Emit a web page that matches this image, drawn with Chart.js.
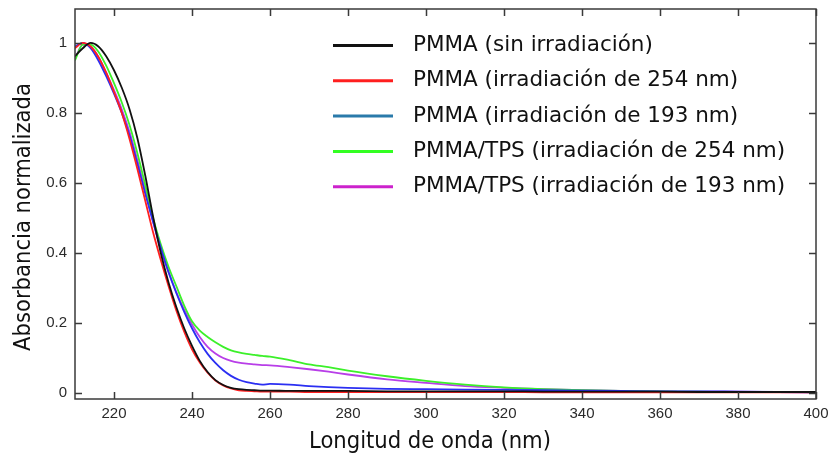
<!DOCTYPE html>
<html>
<head>
<meta charset="utf-8">
<script src="https://cdn.jsdelivr.net/npm/chart.js@4.4.1/dist/chart.umd.min.js"></script>
<style>
html,body{margin:0;padding:0;background:#fff;}
#wrap{width:832px;height:459px;position:relative;}
</style>
</head>
<body>
<div id="wrap"><canvas id="c"></canvas></div>
<script>
// ---- data ----
const wavelengths = [210,212,214,216,218,220,222,224,226,228,230,232,234,236,238,240,242,244,246,248,250,252,254,256,258,260,265,270,275,280,290,300,310,320,330,340,350,360,370,380,390,400];

const pmmaSin = [0.962,0.985,1.0,0.99,0.962,0.922,0.872,0.81,0.728,0.622,0.505,0.4,0.315,0.245,0.185,0.135,0.092,0.06,0.037,0.023,0.015,0.011,0.009,0.008,0.007,0.007,0.006,0.006,0.006,0.006,0.005,0.005,0.005,0.005,0.004,0.004,0.004,0.004,0.003,0.003,0.003,0.003];

const pmma254 = [0.985,1.0,0.99,0.96,0.915,0.86,0.80,0.725,0.64,0.55,0.46,0.38,0.305,0.235,0.175,0.125,0.087,0.058,0.036,0.022,0.013,0.008,0.006,0.005,0.004,0.004,0.004,0.003,0.003,0.003,0.003,0.003,0.003,0.003,0.002,0.002,0.002,0.002,0.002,0.002,0.002,0.002];

const pmma193 = [0.99,1.0,0.985,0.95,0.905,0.855,0.8,0.735,0.655,0.57,0.49,0.415,0.345,0.285,0.232,0.185,0.145,0.112,0.086,0.065,0.049,0.038,0.031,0.027,0.024,0.026,0.024,0.02,0.017,0.015,0.012,0.011,0.01,0.009,0.008,0.007,0.006,0.005,0.005,0.004,0.003,0.002];

const tps254 = [0.95,0.995,0.995,0.975,0.935,0.885,0.83,0.765,0.685,0.595,0.5,0.425,0.36,0.305,0.25,0.205,0.178,0.16,0.145,0.132,0.122,0.116,0.112,0.109,0.106,0.104,0.094,0.082,0.074,0.064,0.048,0.035,0.024,0.016,0.011,0.008,0.006,0.005,0.004,0.003,0.003,0.002];

const tps193 = [0.955,0.995,0.99,0.96,0.915,0.865,0.81,0.745,0.665,0.58,0.49,0.41,0.345,0.288,0.238,0.196,0.16,0.132,0.113,0.1,0.092,0.087,0.084,0.082,0.08,0.079,0.074,0.068,0.061,0.053,0.039,0.029,0.02,0.015,0.011,0.008,0.006,0.005,0.004,0.004,0.003,0.002];

const seriesLabels = ['PMMA (sin irradiación)','PMMA (irradiación de 254 nm)','PMMA (irradiación de 193 nm)','PMMA/TPS (irradiación de 254 nm)','PMMA/TPS (irradiación de 193 nm)'];
const seriesValues = [pmmaSin, pmma254, pmma193, tps254, tps193];
const lineColors = ['#111111','#ff1f1f','#2b2ff2','#3cf02a','#b83ee8'];
const legendColors = ['#111111','#ff1f1f','#2a7aaa','#33ff22','#cc22cc'];

const xTicks = [220,240,260,280,300,320,340,360,380,400];
const yTicks = [0,0.2,0.4,0.6,0.8,1];
const yTickLabels = ['0','0.2','0.4','0.6','0.8','1'];
const xTitle = 'Longitud de onda (nm)';
const yTitle = 'Absorbancia normalizada';

// ---- chart ----
const datasets = seriesValues.map((vals, k) => ({
  label: seriesLabels[k],
  data: wavelengths.map((w, i) => ({x: w, y: vals[i]})),
  borderColor: lineColors[k],
  backgroundColor: lineColors[k],
  borderWidth: 1.8,
  pointRadius: 0,
  fill: false,
  cubicInterpolationMode: 'monotone'
}));

const framePlugin = {
  id: 'frame',
  afterDatasetsDraw(chart) {
    const {ctx, chartArea: a, scales: {x, y}} = chart;
    ctx.save();
    ctx.strokeStyle = '#3a3a3a';
    ctx.lineWidth = 1.5;
    ctx.strokeRect(a.left, a.top, a.right - a.left, a.bottom - a.top);
    ctx.beginPath();
    const tl = 7;
    x.ticks.forEach(t => {
      const px = Math.round(x.getPixelForValue(t.value)) + 0.5;
      ctx.moveTo(px, a.bottom); ctx.lineTo(px, a.bottom - tl);
      ctx.moveTo(px, a.top); ctx.lineTo(px, a.top + tl);
    });
    y.ticks.forEach(t => {
      const py = Math.round(y.getPixelForValue(t.value)) + 0.5;
      ctx.moveTo(a.left, py); ctx.lineTo(a.left + tl, py);
      ctx.moveTo(a.right, py); ctx.lineTo(a.right - tl, py);
    });
    ctx.stroke();
    ctx.restore();
  },
  afterDraw(chart) {
    const {ctx} = chart;
    ctx.save();
    // legend
    ctx.font = '21.5px "DejaVu Sans", Verdana, sans-serif';
    ctx.textBaseline = 'middle';
    ctx.textAlign = 'left';
    chart.data.datasets.forEach((ds, k) => {
      const yy = 45.5 + 35.3 * k;
      ctx.strokeStyle = legendColors[k];
      ctx.lineWidth = 3;
      ctx.beginPath();
      ctx.moveTo(333, yy); ctx.lineTo(393, yy);
      ctx.stroke();
      ctx.fillStyle = '#111';
      ctx.fillText(ds.label, 413, yy);
    });
    // axis titles
    ctx.fillStyle = '#111';
    ctx.font = '23.5px "DejaVu Sans Condensed", "Liberation Sans Narrow", sans-serif';
    ctx.textAlign = 'center';
    ctx.textBaseline = 'middle';
    ctx.fillText(xTitle, 430, 442);
    ctx.translate(24, 217);
    ctx.rotate(-Math.PI / 2);
    ctx.fillText(yTitle, 0, 0);
    ctx.restore();
  }
};

function noPad(s) {
  s.paddingTop = 0; s.paddingBottom = 0; s.paddingLeft = 0; s.paddingRight = 0;
}

new Chart(document.getElementById('c'), {
  type: 'line',
  data: {datasets},
  options: {
    responsive: true,
    maintainAspectRatio: false,
    animation: false,
    devicePixelRatio: 1,
    layout: {padding: {top: 9, right: 16, left: 0, bottom: 0}},
    plugins: {legend: {display: false}, tooltip: {enabled: false}},
    scales: {
      x: {
        type: 'linear', min: 210, max: 400,
        grid: {display: false, drawTicks: false},
        border: {display: false},
        afterBuildTicks: s => { s.ticks = xTicks.map(v => ({value: v})); },
        afterFit: s => { s.height = 60; noPad(s); },
        ticks: {
          color: '#2a2a2a', padding: 6,
          font: {family: '"Liberation Sans", Arial, sans-serif', size: 15},
          callback: v => String(v)
        }
      },
      y: {
        type: 'linear', min: -0.017, max: 1.097,
        grid: {display: false, drawTicks: false},
        border: {display: false},
        afterBuildTicks: s => { s.ticks = yTicks.map(v => ({value: v})); },
        afterFit: s => { s.width = 75; noPad(s); },
        ticks: {
          color: '#2a2a2a', padding: 8,
          font: {family: '"Liberation Sans", Arial, sans-serif', size: 15},
          callback: (v) => { const i = yTicks.indexOf(v); return i >= 0 ? yTickLabels[i] : ''; }
        }
      }
    }
  },
  plugins: [framePlugin]
});
</script>
</body>
</html>
